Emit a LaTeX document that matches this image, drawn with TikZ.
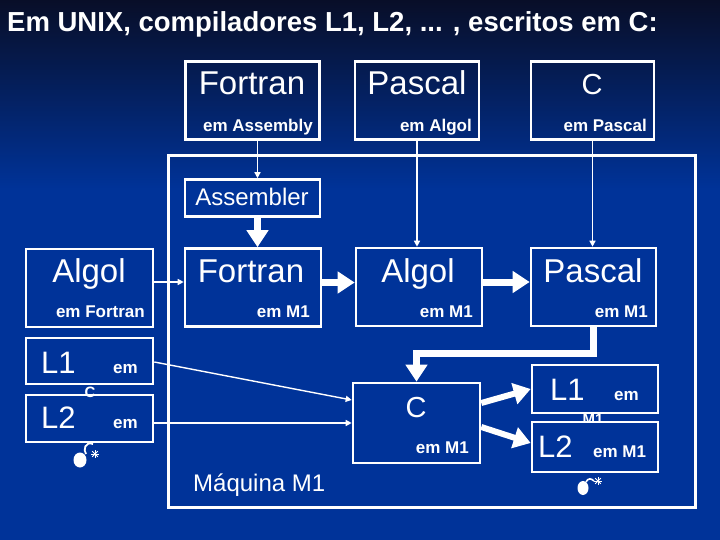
\documentclass[tikz,border=0pt]{standalone}
\usepackage{fontspec}
\setmainfont{Liberation Sans}
\usetikzlibrary{arrows.meta}
\definecolor{bgblue}{RGB}{0,51,153}
\definecolor{topnavy}{RGB}{8,14,40}
\tikzset{
  box/.style={draw=white,line width=2.6pt,inner sep=0pt},
  big/.style={text=white,inner sep=0pt,font=\fontsize{33}{33}\selectfont},
  sub/.style={text=white,inner sep=0pt,font=\bfseries\fontsize{17}{17}\selectfont},
  frag/.style={text=white,inner sep=0pt,font=\bfseries\fontsize{15}{15}\selectfont},
  thinarr/.style={draw=white,line width=1.4pt,-{Triangle[width=6pt,length=6pt]}},
  thickarr/.style={draw=white,line width=7pt,-{Triangle[width=21pt,length=17pt]}}
}
\begin{document}
\begin{tikzpicture}[x=1pt,y=-1pt]
\useasboundingbox (0,0) rectangle (720,540);
% background
\fill[bgblue] (0,0) rectangle (720,540);
\shade[top color=topnavy,bottom color=bgblue] (0,0) rectangle (720,190);

\node[anchor=base west,text=white,inner sep=0pt,font=\bfseries\fontsize{27.5}{28}\selectfont] (title) at (7,32) {Em UNIX, compiladores L1, L2, ... , escritos em C:};

% compiladores de partida
\node[box,minimum width=134pt,minimum height=78pt] (fortA) at (252.5,100.5) {};
\node[big,anchor=base] (fortAt) at (252,95) {Fortran};
\node[sub,anchor=base east] (fortAs) at (313,132) {em Assembly};
\node[box,minimum width=124pt,minimum height=78pt] (pascA) at (417,100.5) {};
\node[big,anchor=base] (pascAt) at (417,95) {Pascal};
\node[sub,anchor=base east] (pascAs) at (472,132) {em Algol};
\node[box,minimum width=123pt,minimum height=78pt] (cA) at (592.5,100.5) {};
\node[big,anchor=base,font=\fontsize{29}{29}\selectfont] (cAt) at (592,95) {C};
\node[sub,anchor=base east] (cAs) at (647,132) {em Pascal};

% maquina M1
\node[box,line width=3pt,minimum width=527pt,minimum height=351pt] (maq) at (431.5,331.5) {};
\node[anchor=base west,text=white,inner sep=0pt,font=\fontsize{24}{24}\selectfont] (maqt) at (193,491) {Máquina M1};

\node[box,minimum width=135pt,minimum height=37pt] (asmb) at (252.5,198) {};
\node[anchor=base,text=white,inner sep=0pt,font=\fontsize{24}{24}\selectfont] (asmbt) at (252,206) {Assembler};

\node[box,fill=bgblue,minimum width=127pt,minimum height=78pt] (algF) at (89.5,288) {};
\node[big,anchor=base] (algFt) at (89,282) {Algol};
\node[sub,anchor=base east] (algFs) at (145,317) {em Fortran};
\node[box,minimum width=136pt,minimum height=78pt] (fortM) at (253,287.5) {};
\node[big,anchor=base] (fortMt) at (251,282) {Fortran};
\node[sub,anchor=base east] (fortMs) at (310,317) {em M1};
\node[box,minimum width=126pt,minimum height=78pt] (algM) at (419,287) {};
\node[big,anchor=base] (algMt) at (418,282) {Algol};
\node[sub,anchor=base east] (algMs) at (473,317) {em M1};
\node[box,minimum width=125pt,minimum height=78pt] (pasM) at (593.5,287) {};
\node[big,anchor=base] (pasMt) at (593,282) {Pascal};
\node[sub,anchor=base east] (pasMs) at (648,317) {em M1};

% L1, L2 em C
\node[box,fill=bgblue,minimum width=127pt,minimum height=46pt] (l1L) at (89.5,361) {};
\node[big,anchor=base west,font=\fontsize{31}{31}\selectfont] (l1Lt) at (41,373) {L1};
\node[sub,anchor=base west] (l1Ls) at (113,373) {em};
\node[box,fill=bgblue,minimum width=127pt,minimum height=47pt] (l2L) at (89.5,418.5) {};
\node[big,anchor=base west,font=\fontsize{31}{31}\selectfont] (l2Lt) at (41,428) {L2};
\node[sub,anchor=base west] (l2Ls) at (113,428) {em};
\node[frag,anchor=base] (l1Lc) at (90,397.5) {C};

\node[box,minimum width=127pt,minimum height=80pt] (cM) at (416.5,423) {};
\node[big,anchor=base,font=\fontsize{29}{29}\selectfont] (cMt) at (416,417) {C};
\node[sub,anchor=base east] (cMs) at (469,453) {em M1};

% L1, L2 em M1
\node[box,fill=bgblue,minimum width=126pt,minimum height=48pt] (l1R) at (595,389) {};
\node[big,anchor=base west,font=\fontsize{31}{31}\selectfont] (l1Rt) at (550,400) {L1};
\node[sub,anchor=base west] (l1Rs) at (614,400) {em};
\node[frag,anchor=base] (l1Rm) at (593,424) {M1};
\node[box,fill=bgblue,minimum width=126pt,minimum height=50pt] (l2R) at (595,447) {};
\node[big,anchor=base west,font=\fontsize{31}{31}\selectfont] (l2Rt) at (538,457) {L2};
\node[sub,anchor=base west] (l2Rs) at (593,457) {em M1};

% bombas
\fill[white] (80,460) ellipse (6.5pt and 7.5pt);
\draw[white,line width=1.8pt] (93,444) .. controls (85,441) and (83,450) .. (86,454);
\foreach \a in {0,45,...,315} \draw[white,line width=1pt] (95,454) -- ++(\a:4pt);
\fill[white] (583,488) ellipse (5.5pt and 7pt);
\draw[white,line width=1.6pt] (586,482) .. controls (588,478) and (591,478) .. (594,481);
\foreach \a in {0,45,...,315} \draw[white,line width=1pt] (598,481) -- ++(\a:4pt);

% setas
\draw[thinarr] ([xshift=5pt]fortA.south) -- ([xshift=5pt]asmb.north);
\draw[thickarr] ([xshift=5pt]asmb.south) -- ([xshift=5pt]asmb.south |- fortM.north);
\draw[thinarr] (pascA.south) -- (pascA.south |- algM.north);
\draw[thinarr] (cA.south) -- (cA.south |- pasM.north);
\draw[thinarr] ([yshift=6pt]algF.east) -- ([yshift=6pt]algF.east -| fortM.west);
\draw[thickarr] ([yshift=5pt]fortM.east) -- ([yshift=5pt]fortM.east -| algM.west);
\draw[thickarr] ([yshift=5pt]algM.east) -- ([yshift=5pt]algM.east -| pasM.west);
\draw[thickarr] (pasM.south) -- ++(0,26) -| (cM.north);
\draw[thinarr] ([yshift=-1pt]l1L.east) -- ([yshift=23pt]cM.west);
\draw[thinarr] (l2L.east |- cM.west) -- (cM.west);
\draw[thickarr,line width=6pt] ([yshift=20pt]cM.east) -- (l1R.west);
\draw[thickarr,line width=6pt] ([yshift=-4pt]cM.east) -- ([yshift=4pt]l2R.west);
\end{tikzpicture}
\end{document}
